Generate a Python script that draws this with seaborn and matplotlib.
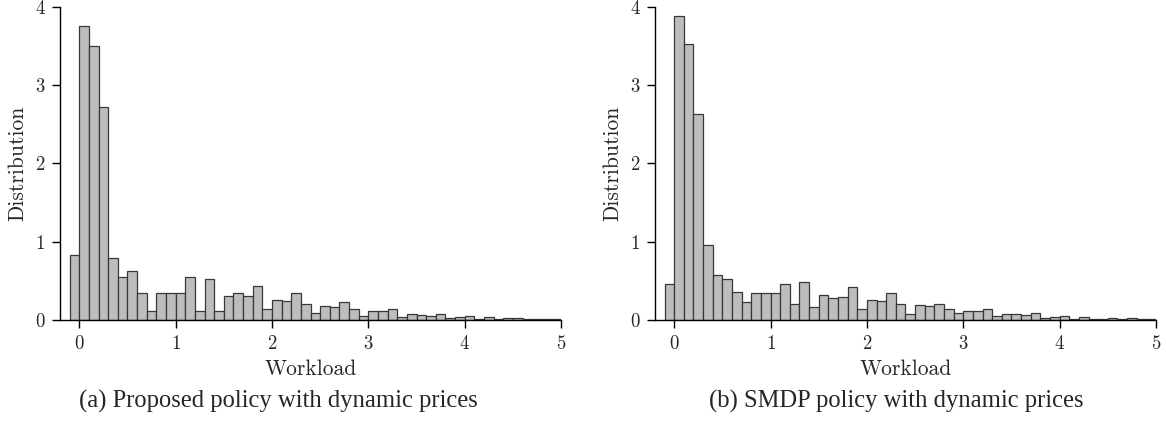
import numpy as np
import pandas as pd
import matplotlib
matplotlib.use("Agg")
import matplotlib.pyplot as plt
import seaborn as sns

sns.set_theme(style="ticks")
plt.rcParams['font.family'] = ['cmr10', 'DejaVu Serif']
plt.rcParams['axes.formatter.use_mathtext'] = True

# histogram bins: width 0.1 from -0.1 to 5.0
bin_edges = [round(v, 2) for v in np.arange(-0.1, 5.0001, 0.1)]
bin_mid = [round(v + 0.05, 3) for v in bin_edges[:-1]]

# density, one value per bin
proposed = [0.83, 3.76, 3.50, 2.72, 0.79, 0.55, 0.62, 0.35, 0.12, 0.35, 0.345,
            0.34, 0.55, 0.115, 0.53, 0.11, 0.31, 0.34, 0.31, 0.43, 0.14,
            0.26, 0.24, 0.34, 0.20, 0.094, 0.18, 0.17, 0.23, 0.14, 0.055,
            0.12, 0.11, 0.145, 0.034, 0.077, 0.068, 0.055, 0.077, 0.02, 0.034,
            0.047, 0.013, 0.034, 0.01, 0.02, 0.02, 0.01, 0.017, 0.008, 0.008]
smdp = [0.46, 3.89, 3.53, 2.63, 0.96, 0.57, 0.52, 0.36, 0.226, 0.35, 0.345,
        0.34, 0.46, 0.21, 0.49, 0.16, 0.315, 0.28, 0.30, 0.42, 0.135,
        0.256, 0.243, 0.34, 0.21, 0.08, 0.196, 0.175, 0.21, 0.145, 0.09,
        0.12, 0.11, 0.136, 0.055, 0.077, 0.072, 0.06, 0.085, 0.02, 0.043,
        0.055, 0.013, 0.038, 0.008, 0.017, 0.02, 0.008, 0.02, 0.008, 0.008]

captions = ['(a) Proposed policy with dynamic prices',
            '(b) SMDP policy with dynamic prices']

fig = plt.figure(figsize=(11.66, 4.23), dpi=100)
ax1 = fig.add_axes([0.0515, 0.2435, 0.4297, 0.740])
ax2 = fig.add_axes([0.5617, 0.2435, 0.4297, 0.740])

for ax, vals in [(ax1, proposed), (ax2, smdp)]:
    df = pd.DataFrame({'Workload': bin_mid, 'w': vals})
    sns.histplot(data=df, x='Workload', weights='w', bins=bin_edges, ax=ax,
                 color='#bdbdbd', edgecolor='#383838', linewidth=0.9, alpha=1)
    ax.set_xlim(-0.2, 5)
    ax.set_ylim(0, 4)
    ax.set_xticks([0, 1, 2, 3, 4, 5])
    ax.set_yticks([0, 1, 2, 3, 4])
    ax.set_ylabel('Distribution', fontsize=15.5, labelpad=5)
    ax.set_xlabel('Workload', fontsize=15.5, labelpad=5)
    ax.tick_params(labelsize=13.5, length=6, width=1, color='black',
                   direction='out', pad=4.5)
    for s in ['top', 'right']:
        ax.spines[s].set_visible(False)
    for s in ['left', 'bottom']:
        ax.spines[s].set_color('black')
        ax.spines[s].set_linewidth(1)

cap_font = ['Liberation Serif', 'Nimbus Roman', 'Times New Roman', 'DejaVu Serif']
fig.text(0.2384, 0.05, captions[0], ha='center', va='center',
         fontsize=17.7, family=cap_font)
fig.text(0.7685, 0.05, captions[1], ha='center', va='center',
         fontsize=17.7, family=cap_font)

fig.savefig('out.png', dpi=100)
